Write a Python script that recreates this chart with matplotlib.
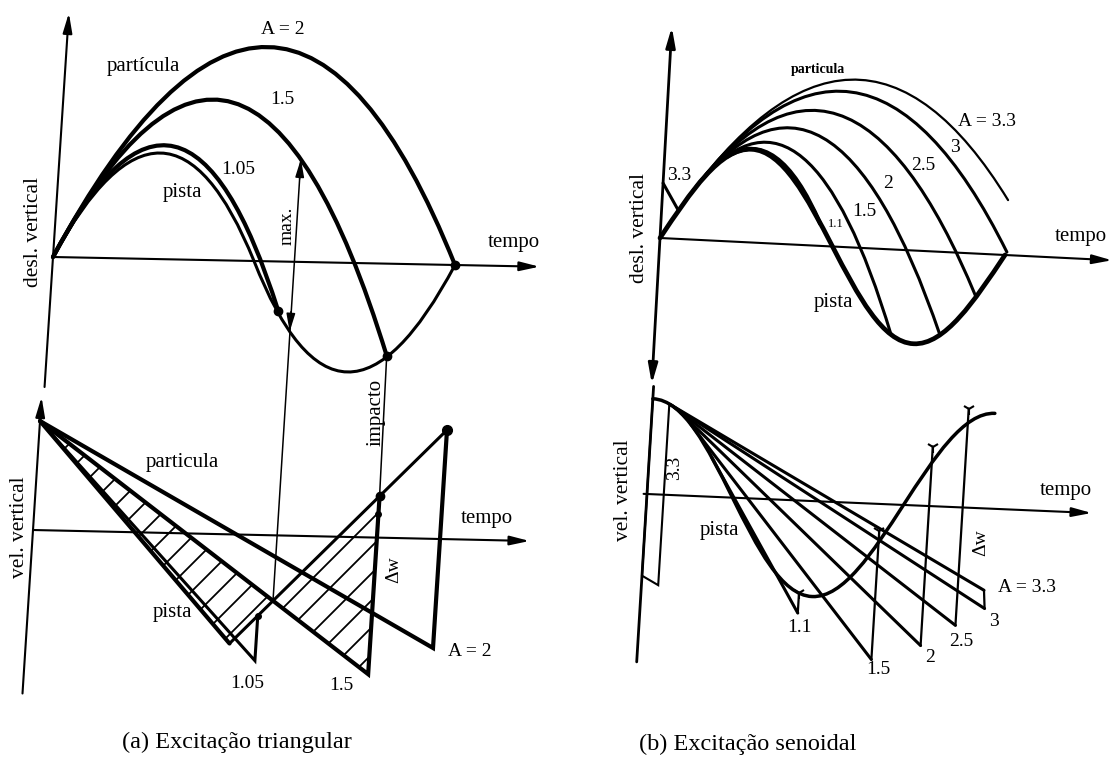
import numpy as np
import matplotlib
matplotlib.use("Agg")
import matplotlib.pyplot as plt
from matplotlib.path import Path
from matplotlib.patches import PathPatch, Polygon, FancyArrowPatch
from matplotlib.collections import LineCollection
from matplotlib.transforms import Affine2D

plt.rcParams["font.family"] = ["Liberation Serif", "DejaVu Serif"]

# ------------------------------------------------------------------
# (a) triangular excitation -- displacement (t = fraction of a period)
# curves are parabolic arcs, stored as quadratic Bezier nodes
# (anchor, control, anchor, control, anchor ...)
tri_pista_t = [0.0, 0.25, 0.5, 0.75, 1.0]
tri_pista_y = [0.0, 2.12, 0.0, -2.18, 0.0]
tri_labels = ["2", "1.5", "1.05"]
tri_part_t = [[0.0, 0.5, 1.0], [0.0, 0.4225, 0.845], [0.0, 0.284, 0.568]]
tri_part_y = [[0.0, 4.28, 0.0], [0.0, 3.617, -0.92], [0.0, 2.50, -0.49]]
tri_max_t = 0.6
tri_max_y = [1.027, -0.698]

# (a) triangular excitation -- velocity
tri_vpista_t = [0.0, 0.5, 1.0]
tri_vpista_v = [1.0, -1.0, 1.0]
tri_vpart_t = [[0.0, 1.0, 1.0], [0.0, 0.845, 0.845], [0.0, 0.565, 0.565]]
tri_vpart_v = [[1.0, -1.0, 1.0], [1.0, -1.253, 0.38], [1.0, -1.152, -0.74]]
tri_dw_t = [[0.0, 0.5, 0.6], [0.6, 0.845, 0.845]]
tri_dw_v = [[1.0, -1.0, -0.6], [-0.6, -1.253, 0.38]]
tri_max_v = -0.6
tri_dw_tick_v = 0.22

# (b) sinusoidal excitation -- displacement
# track: cubic Bezier nodes of one sine period
sin_pista_t = [0.0, 0.0815, 0.1595, 0.25, 0.3405, 0.4185, 0.5,
               0.5815, 0.6595, 0.75, 0.8405, 0.9185, 1.0]
sin_pista_y = [0.0, 0.476, 0.93, 0.93, 0.93, 0.476, 0.0,
               -0.476, -0.93, -0.93, -0.93, -0.476, 0.0]
sin_labels = ["1.1", "1.5", "2", "2.5", "3", "3.3"]
sin_part_t = [[0.1816, 0.3213, 0.461], [0.1161, 0.4001, 0.684],
              [0.0833, 0.4542, 0.825], [0.0655, 0.4943, 0.923],
              [0.0541, 0.5296, 1.005], [0.049, 0.5245, 1.0]]
sin_part_y = [[0.8455, 1.1855, 0.22], [0.62, 1.857, -0.855],
              [0.465, 2.342, -0.83], [0.372, 2.668, -0.433],
              [0.31, 2.929, 0.03], [0.282, 2.930, 0.549]]
sin_prev_t = [0.0, 0.049]
sin_prev_y = [0.549, 0.282]

# (b) sinusoidal excitation -- velocity (track: cubic Bezier nodes)
sin_vpista_t = [0.0, 0.0905, 0.1685, 0.25, 0.3315, 0.4095, 0.5,
                0.5905, 0.6685, 0.75, 0.8315, 0.9095, 1.0]
sin_vpista_v = [5.843, 5.843, 2.992, 0.0, -2.992, -5.843, -5.843,
                -5.843, -2.992, 0.0, 2.992, 5.843, 5.843]
sin_vpart_t = [[0.1816, 0.461], [0.1161, 0.684], [0.0833, 0.825],
               [0.0655, 0.923], [0.0541, 1.005], [0.049, 1.0]]
sin_vpart_v = [[2.434, -6.89], [4.355, -9.542], [5.06, -8.56],
               [5.355, -7.233], [5.509, -6.127], [5.568, -5.01]]
sin_vjump_v = [-5.668, -2.357, 2.652, 5.164]
sin_vjump_over = [0.0, 0.7, 1.0, 0.9]
sin_vprev_t = [0.0, 0.0, 0.049, 0.049]
sin_vprev_v = [5.843, -5.01, -5.55, 5.568]

# ------------------------------------------------------------------
W, H = 1114, 774
fig = plt.figure(figsize=(W / 100, H / 100), dpi=100)
ax = fig.add_axes([0, 0, 1, 1])
ax.set_xlim(0, W)
ax.set_ylim(H, 0)
ax.axis("off")

LW_AX = 1.5
LW_THICK = 3.0
LW_MED = 2.2
LW_THIN = 1.1
K = "black"


def frame(origin, t_vec, y_vec):
    """Skewed panel frame: time along t_vec, amplitude along y_vec."""
    return Affine2D.from_values(t_vec[0], t_vec[1], y_vec[0], y_vec[1],
                                origin[0], origin[1])


aff_a_top = frame((53, 257), (402, 8), (6.5, -100))
aff_a_vel = frame((33, 530), (407, 9), (7, -109))
aff_b_top = frame((660, 238), (345, 17), (5.6, -100))
aff_b_vel = frame((647, 494), (342, 14.6), (1.0, -16.3))
tr_a_top = aff_a_top + ax.transData
tr_a_vel = aff_a_vel + ax.transData
tr_b_top = aff_b_top + ax.transData
tr_b_vel = aff_b_vel + ax.transData


def bezier(t, y, tr, lw, order=2, **kw):
    code = Path.CURVE3 if order == 2 else Path.CURVE4
    verts = np.column_stack([t, y])
    codes = [Path.MOVETO] + [code] * (len(t) - 1)
    ax.add_patch(PathPatch(Path(verts, codes), transform=tr, fill=False,
                           lw=lw, ec=K, capstyle="round", joinstyle="round", **kw))


def line(t, y, tr, lw, **kw):
    ax.plot(t, y, color=K, lw=lw, transform=tr, solid_capstyle="round",
            solid_joinstyle="miter", **kw)


def axis_arrow(p0, p1, tr, lw=LW_AX, heads="-|>"):
    ax.add_patch(FancyArrowPatch(p0, p1, transform=tr, arrowstyle=
                                 heads + ",head_length=0.85,head_width=0.2",
                                 mutation_scale=14, lw=lw, color=K,
                                 shrinkA=0, shrinkB=0))


def hatch_region(t, v, aff, tr, step=27, lw=1.3):
    """Area between two velocity histories, ruled with '/' strokes."""
    poly = Polygon(np.column_stack([t, v]), closed=True, fill=False, lw=0,
                   transform=tr)
    ax.add_patch(poly)
    pts = aff.transform(np.column_stack([t, v]))
    s = pts[:, 0] + pts[:, 1]
    cs = np.arange(np.floor(s.min() / step) * step, s.max() + step, step)
    x0, x1 = pts[:, 0].min() - 5, pts[:, 0].max() + 5
    segs = [[(x0, c - x0), (x1, c - x1)] for c in cs]
    lc = LineCollection(segs, colors=K, linewidths=lw)
    ax.add_collection(lc)
    lc.set_clip_path(poly)


def label(x, y, s, size=14.5, rot=0, **kw):
    ax.text(x, y, s, fontsize=size, rotation=rot, ha="center", va="center",
            color=K, **kw)


# ================= (a) displacement =================
axis_arrow((0, -1.3), (0, 2.44), tr_a_top)
axis_arrow((0, 0), (1.21, 0), tr_a_top)
bezier(tri_pista_t, tri_pista_y, tr_a_top, LW_MED)
for tt, yy in zip(tri_part_t, tri_part_y):
    bezier(tt, yy, tr_a_top, LW_THICK)
ends_t = [tt[-1] for tt in tri_part_t]
ends_y = [yy[-1] for yy in tri_part_y]
ax.plot(ends_t, ends_y, "o", color=K, ms=6, transform=tr_a_top)

# max. marker: double arrow on the 1.5 trajectory, running down to the velocity plot
p_top = aff_a_top.transform((tri_max_t, tri_max_y[0]))
p_bot = aff_a_vel.transform((tri_max_t, tri_max_v))
ax.plot([p_top[0], p_bot[0]], [p_top[1], p_bot[1]], color=K, lw=LW_THIN)
for y0, y1 in [(tri_max_y[0] - 0.2, tri_max_y[0]), (tri_max_y[1] + 0.2, tri_max_y[1])]:
    ax.add_patch(FancyArrowPatch((tri_max_t, y0), (tri_max_t, y1), transform=tr_a_top,
                                 arrowstyle="-|>,head_length=0.9,head_width=0.22",
                                 mutation_scale=12, lw=LW_THIN, color=K,
                                 shrinkA=0, shrinkB=0))
# impact line linking the 1.5 landing in both plots
i_top = aff_a_top.transform((tri_part_t[1][-1], tri_part_y[1][-1]))
i_bot = aff_a_vel.transform((tri_vpart_t[1][-1], tri_vpart_v[1][-1]))
ax.plot([i_top[0], i_bot[0]], [i_top[1], i_bot[1]], color=K, lw=LW_THIN)

label(283, 29, "A = 2", 14)
label(143, 67, "partícula", 15)
label(282, 99, "1.5", 14)
label(238, 169, "1.05", 14)
label(182, 193, "pista", 15)
label(287, 226, "max.", 14, rot=90)
label(514, 242, "tempo", 15)
label(34, 232, "desl. vertical", 15.5, rot=90)

# ================= (a) velocity =================
axis_arrow((0, -1.5), (0, 1.22), tr_a_vel)
axis_arrow((0, 0), (1.22, 0), tr_a_vel)
for tt, vv in zip(tri_dw_t, tri_dw_v):
    hatch_region(tt, vv, aff_a_vel, tr_a_vel)
line(tri_vpista_t[:2], tri_vpista_v[:2], tr_a_vel, LW_THICK)
line(tri_vpista_t[1:], tri_vpista_v[1:], tr_a_vel, LW_MED)
line(tri_vpart_t[0], tri_vpart_v[0], tr_a_vel, LW_THICK)
line(tri_vpart_t[1], tri_vpart_v[1], tr_a_vel, LW_THICK)
line(tri_vpart_t[2], tri_vpart_v[2], tr_a_vel, LW_MED)
ax.plot([tri_vpart_t[0][-1]], [tri_vpart_v[0][-1]], "o", color=K, ms=7, transform=tr_a_vel)
ax.plot([tri_vpart_t[1][-1]], [tri_vpart_v[1][-1]], "o", color=K, ms=6, transform=tr_a_vel)
ax.plot([tri_vpart_t[1][-1]], [tri_dw_tick_v], "o", color=K, ms=4, transform=tr_a_vel)
ax.plot([tri_vpart_t[2][-1]], [tri_vpart_v[2][-1]], "o", color=K, ms=4, transform=tr_a_vel)

label(376, 412, "impacto", 15, rot=90)
label(182, 463, "particula", 15)
label(172, 613, "pista", 15)
label(487, 518, "tempo", 15)
label(20, 527, "vel. vertical", 15.5, rot=90)
label(394, 570, "Δw", 14, rot=90)
label(247, 684, "1.05", 14)
label(341, 686, "1.5", 14)
label(470, 651, "A = 2", 14)

# ================= (b) displacement =================
axis_arrow((0, 0), (0, 2.11), tr_b_top, lw=2.0)
axis_arrow((0, 0), (0, -1.46), tr_b_top, lw=2.0)
axis_arrow((0, 0), (1.31, 0), tr_b_top)
bezier(sin_pista_t, sin_pista_y, tr_b_top, LW_THICK + 0.4, order=3)
for i, (tt, yy) in enumerate(zip(sin_part_t, sin_part_y)):
    lw = LW_THICK if i == 0 else (1.6 if i == 5 else LW_MED)
    bezier(tt, yy, tr_b_top, lw)
line(sin_prev_t, sin_prev_y, tr_b_top, LW_MED)

label(679, 175, "3.3", 14)
label(818, 70, "particula", 10, weight="bold")
label(987, 121, "A = 3.3", 14)
label(955, 148, "3", 14)
label(923, 166, "2.5", 14)
label(888, 184, "2", 14)
label(864, 211, "1.5", 14)
label(836, 224, "1.1", 9)
label(833, 303, "pista", 15)
label(1081, 236, "tempo", 15)
label(640, 228, "desl. vertical", 15.5, rot=90)

# ================= (b) velocity =================
line([0, 0], [6.6, -10.3], tr_b_vel, 2.0)
axis_arrow((-0.01, 0), (1.30, 0), tr_b_vel)
bezier(sin_vpista_t, sin_vpista_v, tr_b_vel, LW_MED + 0.3, order=3)
line(sin_vprev_t, sin_vprev_v, tr_b_vel, 1.5)
for tt, vv in zip(sin_vpart_t, sin_vpart_v):
    line(tt, vv, tr_b_vel, LW_MED)
for tt, vv, vj, dv in zip(sin_vpart_t[:4], sin_vpart_v[:4], sin_vjump_v, sin_vjump_over):
    line([tt[1], tt[1]], [vv[1], vj + dv], tr_b_vel, 1.6)
    ax.plot([tt[1]], [vj + dv], marker="1", ms=9, mew=1.5, color=K, transform=tr_b_vel)
line([sin_vpart_t[4][1], sin_vpart_t[5][1]], [sin_vpart_v[4][1], sin_vpart_v[5][1]],
     tr_b_vel, 1.6)

label(624, 490, "vel. vertical", 15.5, rot=90)
label(675, 468, "3.3", 14, rot=90)
label(719, 530, "pista", 15)
label(1066, 491, "tempo", 15)
label(981, 543, "Δw", 14, rot=90)
label(1027, 587, "A = 3.3", 14)
label(994, 622, "3", 14)
label(961, 641, "2.5", 14)
label(930, 657, "2", 14)
label(878, 669, "1.5", 14)
label(799, 627, "1.1", 14)

# captions
label(237, 742, "(a) Excitação triangular", 17.5)
label(748, 744, "(b) Excitação senoidal", 17.5)

fig.savefig("out.png", dpi=100, facecolor="white")
